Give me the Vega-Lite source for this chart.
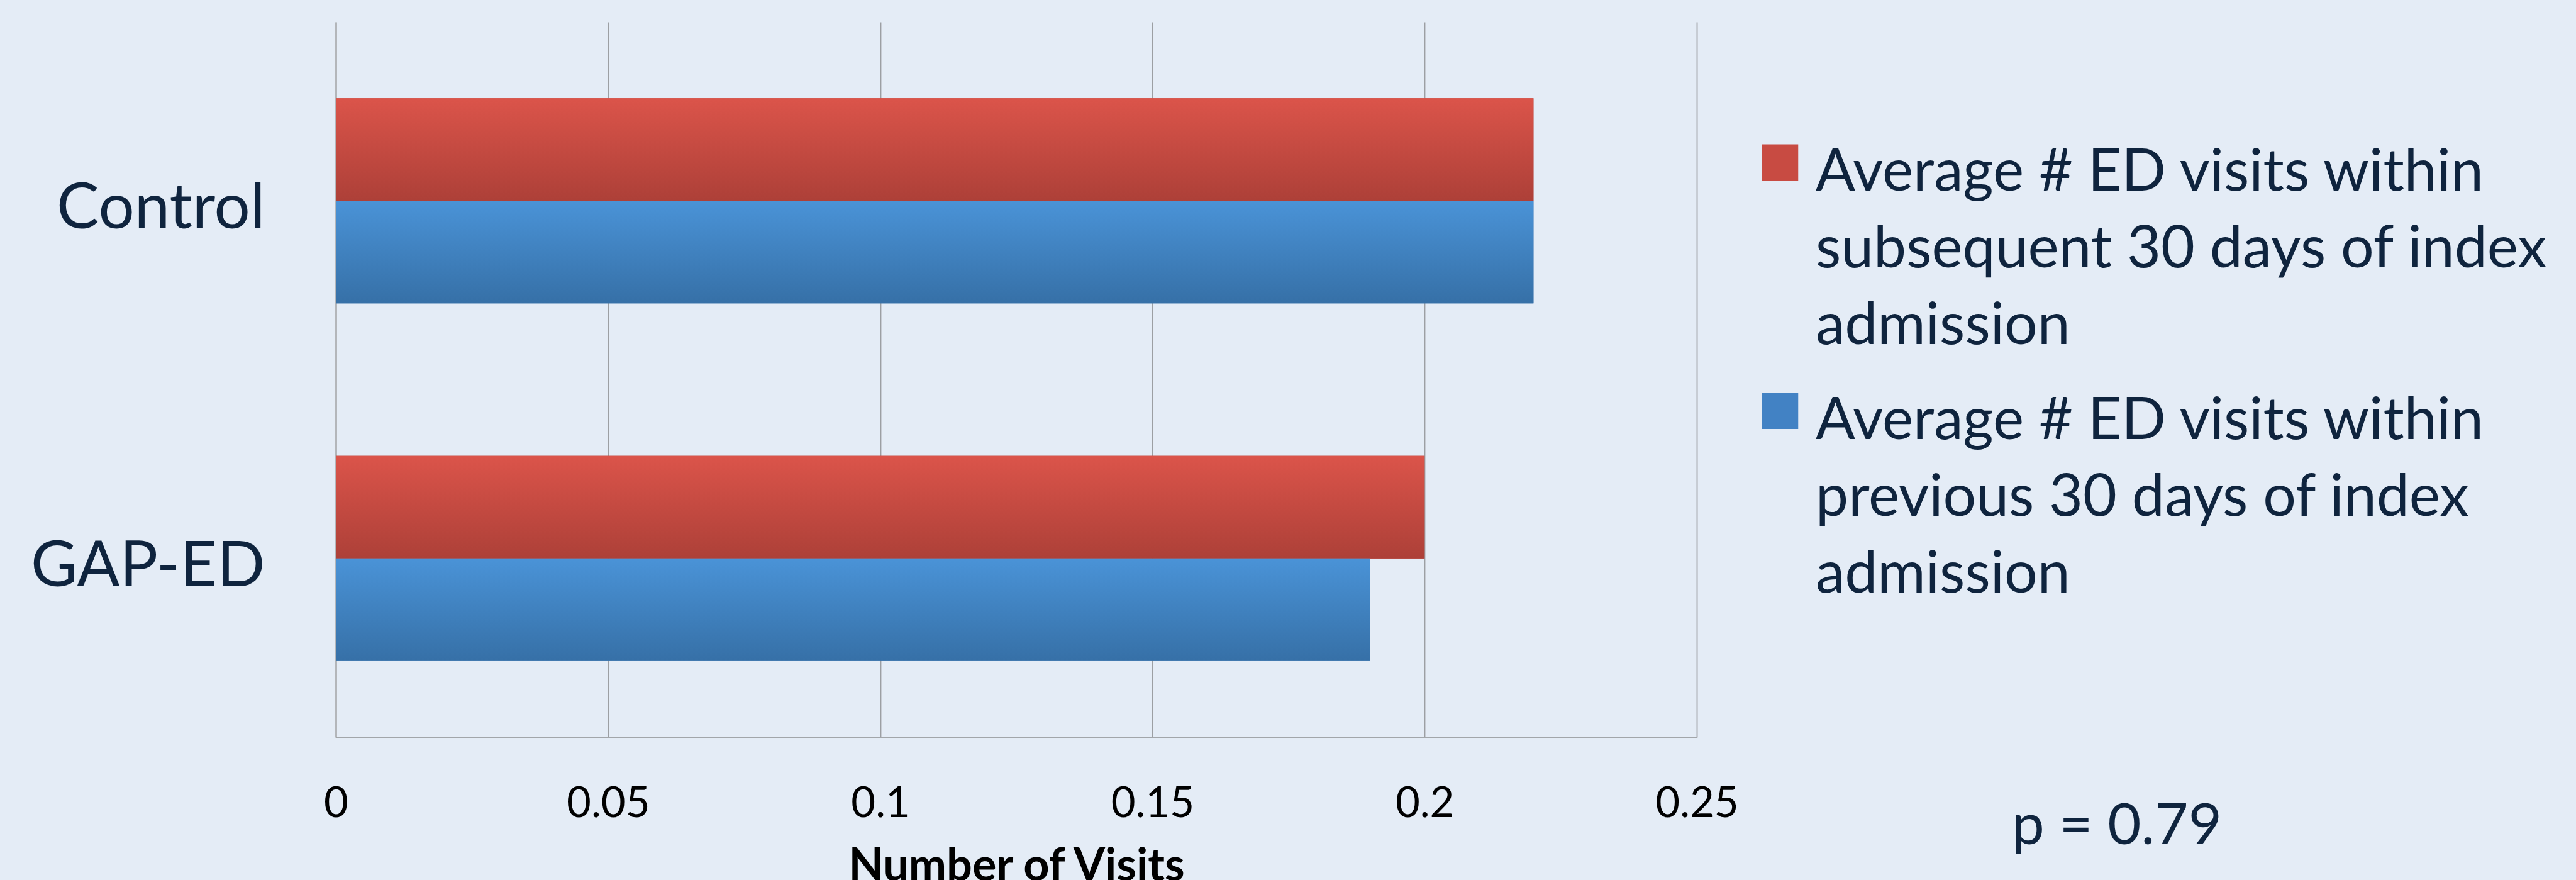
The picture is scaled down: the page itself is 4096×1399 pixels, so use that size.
{
  "$schema": "https://vega.github.io/schema/vega-lite/v6.json",
  "autosize": {"type": "none"},
  "width": 2164,
  "height": 1137,
  "padding": {"left": 534, "top": 35, "right": 1398, "bottom": 227},
  "background": "#E4ECF6",
  "config": {
    "view": {"stroke": null},
    "style": {"guide-label": {"lineHeight": 122}}
  },
  "title": {
    "text": "p = 0.79",
    "orient": "bottom",
    "anchor": "end",
    "frame": "group",
    "font": "Lato",
    "fontSize": 92,
    "fontWeight": "normal",
    "color": "#0F243E",
    "baseline": "top",
    "offset": -144,
    "dx": 835
  },
  "data": {
    "values": [
      {"group": "Control", "series": "subsequent", "value": 0.22},
      {"group": "Control", "series": "previous", "value": 0.22},
      {"group": "GAP-ED", "series": "subsequent", "value": 0.2},
      {"group": "GAP-ED", "series": "previous", "value": 0.19}
    ]
  },
  "encoding": {
    "y": {
      "field": "group",
      "type": "nominal",
      "sort": ["Control", "GAP-ED"],
      "scale": {"paddingInner": 0.427, "paddingOuter": 0.2135},
      "axis": {
        "title": null,
        "domain": true,
        "domainColor": "#A0A0A0",
        "domainWidth": 2,
        "ticks": false,
        "tickSize": 0,
        "labelFont": "Lato",
        "labelFontSize": 101,
        "labelColor": "#0F243E",
        "labelPadding": 113,
        "labelOffset": 14,
        "labelBaseline": "middle",
        "labelLimit": 1000,
        "grid": false
      }
    },
    "yOffset": {
      "field": "series",
      "type": "nominal",
      "sort": ["subsequent", "previous"],
      "scale": {"paddingInner": 0, "paddingOuter": 0}
    },
    "x": {
      "field": "value",
      "type": "quantitative",
      "scale": {"domain": [0, 0.25], "nice": false},
      "axis": {
        "values": [0, 0.05, 0.1, 0.15, 0.2, 0.25],
        "labelExpr": "'' + datum.value",
        "grid": true,
        "gridColor": "#9C9FA3",
        "gridWidth": 1.8,
        "domain": true,
        "domainColor": "#A2A6AA",
        "domainWidth": 3,
        "ticks": false,
        "tickSize": 0,
        "labelFont": "Lato",
        "labelFontSize": 67,
        "labelColor": "#000000",
        "labelPadding": 73,
        "labelFlush": false,
        "title": "Number of Visits",
        "titleFont": "Lato",
        "titleFontSize": 72,
        "titleFontWeight": "bold",
        "titleColor": "#000000",
        "titlePadding": 31
      }
    }
  },
  "layer": [
    {
      "mark": {"type": "bar", "color": "#5A6470", "opacity": 0.3, "yOffset": 6}
    },
    {
      "mark": {"type": "bar"},
      "encoding": {
        "color": {
          "field": "series",
          "type": "nominal",
          "scale": {"domain": ["subsequent", "previous"], "range": ["#C84B42", "#4282C4"]},
          "legend": {
            "orient": "none",
            "legendX": 2250,
            "legendY": 148,
            "padding": 0,
            "title": null,
            "rowPadding": 12,
            "symbolType": "M-1,0H1V2H-1Z",
            "symbolSize": 3306,
            "symbolStrokeWidth": 0,
            "labelFont": "Lato",
            "labelFontSize": 93,
            "labelColor": "#0F243E",
            "labelBaseline": "top",
            "labelOffset": 10,
            "labelLimit": 3000,
            "labelExpr": "datum.label == 'subsequent' ? ['Average # ED visits within', 'subsequent 30 days of index', 'admission'] : ['Average # ED visits within', 'previous 30 days of index', 'admission']"
          }
        }
      }
    },
    {
      "mark": {"type": "bar"},
      "encoding": {
        "fill": {
          "condition": {
            "test": "datum.series == 'subsequent'",
            "value": {"gradient": "linear", "x1": 0, "y1": 0, "x2": 0, "y2": 1, "stops": [{"offset": 0, "color": "#DB544A"}, {"offset": 1, "color": "#AD4038"}]}
          },
          "value": {"gradient": "linear", "x1": 0, "y1": 0, "x2": 0, "y2": 1, "stops": [{"offset": 0, "color": "#4A93D7"}, {"offset": 1, "color": "#3670A7"}]}
        }
      }
    }
  ]
}
